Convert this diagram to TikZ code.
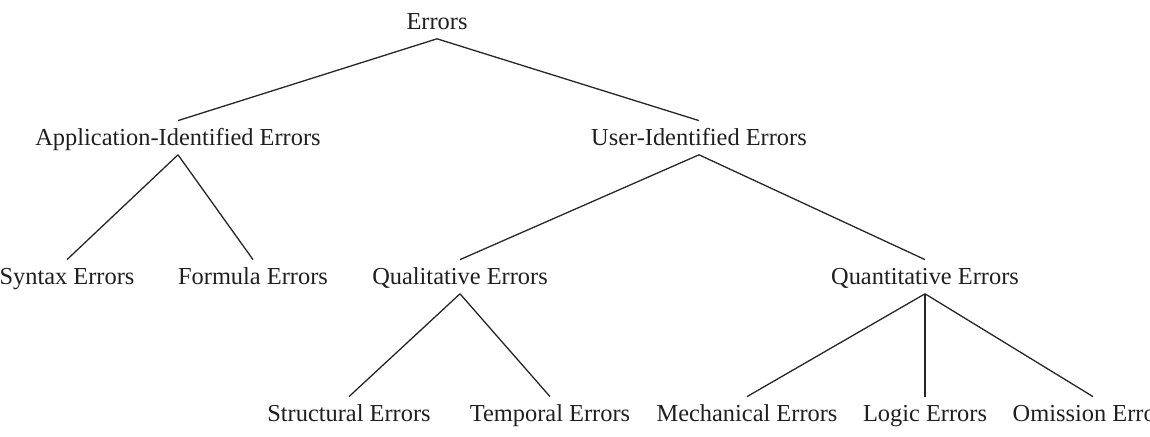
\documentclass[tikz,border=0pt]{standalone}
\usepackage{fontspec}
\setmainfont{Liberation Serif}
\usepackage{tikz}
\usetikzlibrary{positioning}
\tikzset{errnode/.style={anchor=base, inner xsep=0pt, inner ysep=3.2pt, text height=0.88em, text depth=0.15em, text=black!88, font=\fontsize{12.2pt}{14pt}\selectfont},
branch/.style={draw=black!85, line width=0.65pt}}

\begin{document}
\begin{tikzpicture}[x=0.5pt,y=-0.5pt]
 \clip (0,0) rectangle (1150,436);
 \useasboundingbox (0,0) rectangle (1150,436);

 %Top level
 \node[errnode] (errors) at (437,29) {Errors};

 %Second level
 \node[errnode] (appid) at (178,145) {Application-Identified Errors};
 \node[errnode] (userid) at (699,145) {User-Identified Errors};
 \draw[branch] (errors.south) -- (appid.north);
 \draw[branch] (errors.south) -- (userid.north);

 %Third level
 \node[errnode] (syntax) at (67,284) {Syntax Errors};
 \node[errnode] (formula) at (253,284) {Formula Errors};
 \node[errnode] (qual) at (460,284) {Qualitative Errors};
 \node[errnode] (quant) at (925,284) {Quantitative Errors};
 \draw[branch] (appid.south) -- (syntax.north);
 \draw[branch] (appid.south) -- (formula.north);
 \draw[branch] (userid.south) -- (qual.north);
 \draw[branch] (userid.south) -- (quant.north);

 %Bottom level
 \node[errnode] (struct) at (349,421) {Structural Errors};
 \node[errnode] (temporal) at (550,421) {Temporal Errors};
 \node[errnode] (mech) at (747,421) {Mechanical Errors};
 \node[errnode] (logic) at (925,421) {Logic Errors};
 \node[errnode] (omission) at (1093,421) {Omission Errors};
 \draw[branch] (qual.south) -- (struct.north);
 \draw[branch] (qual.south) -- (temporal.north);
 \draw[branch] (quant.south) -- (mech.north);
 \draw[branch] (quant.south) -- (logic.north);
 \draw[branch] (quant.south) -- (omission.north);

\end{tikzpicture}
\end{document}
